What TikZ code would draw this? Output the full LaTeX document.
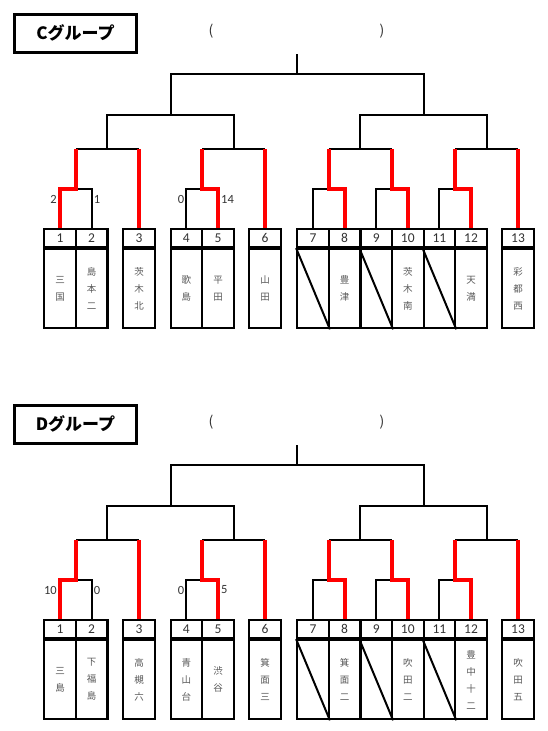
\documentclass[tikz,border=0pt]{standalone}
\usepackage{fontspec}
\newfontfamily\jpfont{Noto Sans CJK JP}
\newfontfamily\numfont{Carlito}
\usetikzlibrary{calc}

\tikzset{
  numcell/.style={draw, line width=2.2pt, minimum width=31.6pt, minimum height=18pt, inner sep=0pt,
    font=\numfont\fontsize{13.5}{15}\selectfont, text=black!80},
  namecell/.style={draw, line width=2.2pt, minimum width=31.6pt, minimum height=79pt, inner sep=0pt,
    anchor=north, text width=12pt, align=center, font=\jpfont\fontsize{9.5}{17}\selectfont, text=black!65},
  lose/.style={line width=2pt},
  win/.style={red, line width=4pt},
  score/.style={font=\numfont\fontsize{12.5}{14}\selectfont, text=black!80, inner sep=0pt},
  grouptitle/.style={draw, line width=3pt, minimum width=122pt, minimum height=38pt,
    font=\jpfont\bfseries\fontsize{17}{19}\selectfont},
  paren/.style={font=\jpfont\fontsize{14}{16}\selectfont, text=black!80}
}

% #1 group, #2 team names, #3-#6 first round scores
\newcommand{\bracketgroup}[6]{%
  % title and blank round label
  \node[grouptitle] (#1-title) at (75.5,33) {#1グループ};
  \node[paren] (#1-lp) at (211,31) {(};
  \node[paren] (#1-rp) at (382,31) {)};

  % team cells
  \foreach \i/\x in {1/60,2/91.6,3/139,4/186.4,5/218,6/265,7/313,8/344.6,9/376.2,10/407.8,11/439.4,12/471,13/518}
    \coordinate (#1-pos-\i) at (\x,238);
  \foreach \i/\nm in {#2} {
    \node[numcell] (#1-\i) at (#1-pos-\i) {\i};
    \node[namecell] (#1-n\i) at (#1-\i.south) {\nm};
  }
  \foreach \i in {7,9,11}
    \draw[lose] (#1-n\i.north west) -- (#1-n\i.south east);

  % first round: left / right / winner / loser
  \foreach \p/\q/\w/\l in {1/2/1/2, 4/5/5/4, 7/8/8/7, 9/10/10/9, 11/12/12/11} {
    \coordinate (#1-m\p) at ($(#1-\p.north)!0.5!(#1-\q.north)$);
    \draw[lose] (#1-m\p |- 0,189) -| (#1-\l.north);
  }

  % second round
  \foreach \p/\q in {m1/3, m4/6, m7/m9, m11/13} {
    \coordinate (#1-s\p) at ($(#1-\p)!0.5!(#1-\q)$);
    \draw[lose] (#1-\p |- 0,149) -- (#1-\q |- 0,149);
  }

  % third round and final
  \coordinate (#1-t1) at ($(#1-sm1)!0.5!(#1-sm4)$);
  \coordinate (#1-t7) at ($(#1-sm7)!0.5!(#1-sm11)$);
  \coordinate (#1-top) at ($(#1-t1)!0.5!(#1-t7)$);
  \draw[lose] (#1-sm1 |- 0,149) -- (#1-sm1 |- 0,115) -- (#1-sm4 |- 0,115) -- (#1-sm4 |- 0,149);
  \draw[lose] (#1-sm7 |- 0,149) -- (#1-sm7 |- 0,115) -- (#1-sm11 |- 0,115) -- (#1-sm11 |- 0,149);
  \draw[lose] (#1-t1 |- 0,115) -- (#1-t1 |- 0,74) -- (#1-t7 |- 0,74) -- (#1-t7 |- 0,115);
  \draw[lose] (#1-top |- 0,74) -- (#1-top |- 0,54);

  % winners in red
  \foreach \p/\w in {1/1, 4/5, 7/8, 9/10, 11/12}
    \draw[win] (#1-m\p |- 0,149) -- (#1-m\p |- 0,189) -| (#1-\w.north);
  \foreach \i in {3,6,13}
    \draw[win] (#1-\i |- 0,149) -- (#1-\i.north);

  % scores
  \node[score, anchor=east, xshift=-3pt] (#1-sc1) at (#1-1 |- 0,199) {#3};
  \node[score, anchor=west, xshift=2pt] (#1-sc2) at (#1-2 |- 0,199) {#4};
  \node[score, anchor=east, xshift=-2pt] (#1-sc4) at (#1-4 |- 0,199) {#5};
  \node[score, anchor=west, xshift=3pt] (#1-sc5) at (#1-5 |- 0,199) {#6};
}

\begin{document}
\begin{tikzpicture}[x=1pt, y=-1pt]
\useasboundingbox[fill=white] (0,0) rectangle (547,731);

% C group
\bracketgroup{C}{1/{三\\国}, 2/{島\\本\\二}, 3/{茨\\木\\北}, 4/{歌\\島}, 5/{平\\田}, 6/{山\\田}, 7/{}, 8/{豊\\津}, 9/{}, 10/{茨\\木\\南}, 11/{}, 12/{天\\満}, 13/{彩\\都\\西}}{2}{1}{0}{14}

% D group
\begin{scope}[yshift=-391pt]
\bracketgroup{D}{1/{三\\島}, 2/{下\\福\\島}, 3/{高\\槻\\六}, 4/{青\\山\\台}, 5/{渋\\谷}, 6/{箕\\面\\三}, 7/{}, 8/{箕\\面\\二}, 9/{}, 10/{吹\\田\\二}, 11/{}, 12/{豊\\中\\十\\二}, 13/{吹\\田\\五}}{10}{0}{0}{5}
\end{scope}
\end{tikzpicture}
\end{document}
